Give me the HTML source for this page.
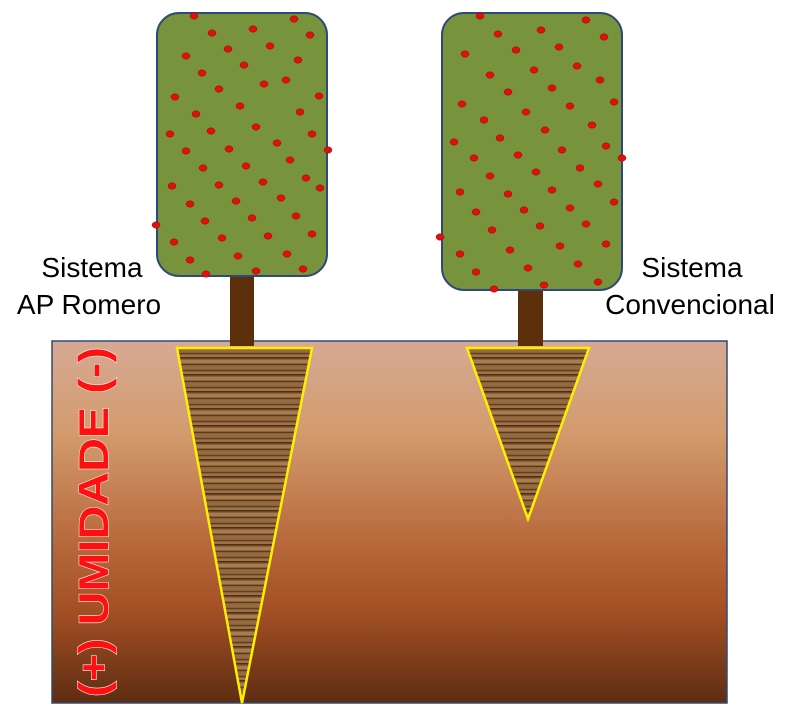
<!DOCTYPE html>
<html><head><meta charset="utf-8"><style>
html,body{margin:0;padding:0;background:#fff;width:800px;height:712px;overflow:hidden}
</style></head><body>
<svg width="800" height="712" viewBox="0 0 800 712" xmlns="http://www.w3.org/2000/svg">
<defs>
<linearGradient id="soil" x1="0" y1="0" x2="0" y2="1">
<stop offset="0" stop-color="#d6a994"/>
<stop offset="0.25" stop-color="#d39c6e"/>
<stop offset="0.55" stop-color="#b86a3c"/>
<stop offset="0.75" stop-color="#a24f24"/>
<stop offset="1" stop-color="#5e2d12"/>
</linearGradient>
<pattern id="wood" width="40" height="17" patternUnits="userSpaceOnUse">
<rect width="40" height="17" fill="#8a6038"/>
<rect y="0" width="40" height="1.5" fill="#4a2e16"/>
<rect y="3" width="40" height="3" fill="#a87c4e"/>
<rect y="7" width="40" height="1" fill="#5a3a1e"/>
<rect y="9" width="40" height="3" fill="#946a3e"/>
<rect y="13" width="40" height="1" fill="#603e20"/>
<rect y="15" width="40" height="2" fill="#9c7246"/>
</pattern>
</defs>
<rect x="52" y="341" width="675" height="362" fill="url(#soil)" stroke="#2f4a78" stroke-width="1.5"/>
<rect x="230" y="274" width="24" height="72" fill="#5c2e0a"/>
<rect x="518" y="288" width="25" height="58" fill="#5c2e0a"/>
<polygon points="177,348 312,348 242,703" fill="url(#wood)" stroke="#ffee00" stroke-width="2.5"/>
<polygon points="467,348 589,348 528,519" fill="url(#wood)" stroke="#ffee00" stroke-width="2.5"/>
<rect x="157" y="13" width="170" height="263" rx="22" fill="#77933c" stroke="#2f4a78" stroke-width="2"/>
<rect x="442" y="13" width="180" height="277" rx="22" fill="#77933c" stroke="#2f4a78" stroke-width="2"/>
<g fill="#e01010" stroke="#a00000" stroke-width="0.5">
<ellipse cx="194" cy="16" rx="4" ry="3.2"/><ellipse cx="294" cy="19" rx="4" ry="3.2"/><ellipse cx="212" cy="33" rx="4" ry="3.2"/><ellipse cx="253" cy="29" rx="4" ry="3.2"/><ellipse cx="310" cy="35" rx="4" ry="3.2"/>
<ellipse cx="186" cy="56" rx="4" ry="3.2"/><ellipse cx="228" cy="49" rx="4" ry="3.2"/><ellipse cx="270" cy="46" rx="4" ry="3.2"/><ellipse cx="244" cy="65" rx="4" ry="3.2"/><ellipse cx="298" cy="60" rx="4" ry="3.2"/>
<ellipse cx="202" cy="73" rx="4" ry="3.2"/><ellipse cx="175" cy="97" rx="4" ry="3.2"/><ellipse cx="219" cy="89" rx="4" ry="3.2"/><ellipse cx="264" cy="84" rx="4" ry="3.2"/><ellipse cx="319" cy="96" rx="4" ry="3.2"/>
<ellipse cx="286" cy="80" rx="4" ry="3.2"/><ellipse cx="196" cy="114" rx="4" ry="3.2"/><ellipse cx="240" cy="106" rx="4" ry="3.2"/><ellipse cx="300" cy="112" rx="4" ry="3.2"/><ellipse cx="170" cy="134" rx="4" ry="3.2"/>
<ellipse cx="211" cy="131" rx="4" ry="3.2"/><ellipse cx="256" cy="127" rx="4" ry="3.2"/><ellipse cx="312" cy="134" rx="4" ry="3.2"/><ellipse cx="186" cy="151" rx="4" ry="3.2"/><ellipse cx="229" cy="149" rx="4" ry="3.2"/>
<ellipse cx="277" cy="143" rx="4" ry="3.2"/><ellipse cx="328" cy="150" rx="4" ry="3.2"/><ellipse cx="203" cy="168" rx="4" ry="3.2"/><ellipse cx="246" cy="166" rx="4" ry="3.2"/><ellipse cx="290" cy="160" rx="4" ry="3.2"/>
<ellipse cx="172" cy="186" rx="4" ry="3.2"/><ellipse cx="219" cy="185" rx="4" ry="3.2"/><ellipse cx="263" cy="182" rx="4" ry="3.2"/><ellipse cx="306" cy="178" rx="4" ry="3.2"/><ellipse cx="190" cy="204" rx="4" ry="3.2"/>
<ellipse cx="236" cy="201" rx="4" ry="3.2"/><ellipse cx="281" cy="198" rx="4" ry="3.2"/><ellipse cx="320" cy="188" rx="4" ry="3.2"/><ellipse cx="156" cy="225" rx="4" ry="3.2"/><ellipse cx="205" cy="221" rx="4" ry="3.2"/>
<ellipse cx="252" cy="218" rx="4" ry="3.2"/><ellipse cx="296" cy="216" rx="4" ry="3.2"/><ellipse cx="174" cy="242" rx="4" ry="3.2"/><ellipse cx="222" cy="238" rx="4" ry="3.2"/><ellipse cx="268" cy="236" rx="4" ry="3.2"/>
<ellipse cx="312" cy="234" rx="4" ry="3.2"/><ellipse cx="190" cy="260" rx="4" ry="3.2"/><ellipse cx="238" cy="256" rx="4" ry="3.2"/><ellipse cx="287" cy="254" rx="4" ry="3.2"/><ellipse cx="206" cy="274" rx="4" ry="3.2"/>
<ellipse cx="256" cy="271" rx="4" ry="3.2"/><ellipse cx="303" cy="269" rx="4" ry="3.2"/>
<ellipse cx="480" cy="16" rx="4" ry="3.2"/><ellipse cx="586" cy="20" rx="4" ry="3.2"/><ellipse cx="498" cy="34" rx="4" ry="3.2"/><ellipse cx="541" cy="30" rx="4" ry="3.2"/><ellipse cx="604" cy="37" rx="4" ry="3.2"/>
<ellipse cx="465" cy="54" rx="4" ry="3.2"/><ellipse cx="516" cy="50" rx="4" ry="3.2"/><ellipse cx="559" cy="47" rx="4" ry="3.2"/><ellipse cx="577" cy="66" rx="4" ry="3.2"/><ellipse cx="534" cy="70" rx="4" ry="3.2"/>
<ellipse cx="490" cy="75" rx="4" ry="3.2"/><ellipse cx="600" cy="80" rx="4" ry="3.2"/><ellipse cx="462" cy="104" rx="4" ry="3.2"/><ellipse cx="508" cy="92" rx="4" ry="3.2"/><ellipse cx="552" cy="88" rx="4" ry="3.2"/>
<ellipse cx="614" cy="102" rx="4" ry="3.2"/><ellipse cx="484" cy="120" rx="4" ry="3.2"/><ellipse cx="526" cy="112" rx="4" ry="3.2"/><ellipse cx="570" cy="106" rx="4" ry="3.2"/><ellipse cx="454" cy="142" rx="4" ry="3.2"/>
<ellipse cx="500" cy="138" rx="4" ry="3.2"/><ellipse cx="545" cy="130" rx="4" ry="3.2"/><ellipse cx="592" cy="125" rx="4" ry="3.2"/><ellipse cx="474" cy="158" rx="4" ry="3.2"/><ellipse cx="518" cy="155" rx="4" ry="3.2"/>
<ellipse cx="562" cy="150" rx="4" ry="3.2"/><ellipse cx="606" cy="146" rx="4" ry="3.2"/><ellipse cx="622" cy="158" rx="4" ry="3.2"/><ellipse cx="490" cy="176" rx="4" ry="3.2"/><ellipse cx="536" cy="172" rx="4" ry="3.2"/>
<ellipse cx="580" cy="168" rx="4" ry="3.2"/><ellipse cx="460" cy="192" rx="4" ry="3.2"/><ellipse cx="508" cy="194" rx="4" ry="3.2"/><ellipse cx="552" cy="190" rx="4" ry="3.2"/><ellipse cx="598" cy="184" rx="4" ry="3.2"/>
<ellipse cx="476" cy="212" rx="4" ry="3.2"/><ellipse cx="524" cy="210" rx="4" ry="3.2"/><ellipse cx="570" cy="208" rx="4" ry="3.2"/><ellipse cx="614" cy="202" rx="4" ry="3.2"/><ellipse cx="440" cy="237" rx="4" ry="3.2"/>
<ellipse cx="492" cy="230" rx="4" ry="3.2"/><ellipse cx="540" cy="226" rx="4" ry="3.2"/><ellipse cx="586" cy="224" rx="4" ry="3.2"/><ellipse cx="460" cy="254" rx="4" ry="3.2"/><ellipse cx="510" cy="250" rx="4" ry="3.2"/>
<ellipse cx="560" cy="246" rx="4" ry="3.2"/><ellipse cx="606" cy="244" rx="4" ry="3.2"/><ellipse cx="476" cy="272" rx="4" ry="3.2"/><ellipse cx="528" cy="268" rx="4" ry="3.2"/><ellipse cx="578" cy="264" rx="4" ry="3.2"/>
<ellipse cx="494" cy="289" rx="4" ry="3.2"/><ellipse cx="544" cy="285" rx="4" ry="3.2"/><ellipse cx="598" cy="282" rx="4" ry="3.2"/>
</g>
<g font-family="Liberation Sans, sans-serif" font-size="28" fill="#000" text-anchor="middle">
<text x="92" y="277">Sistema</text>
<text x="89" y="314">AP Romero</text>
<text x="692" y="277">Sistema</text>
<text x="690" y="314">Convencional</text>
</g>
<text transform="translate(108,522) rotate(-90)" text-anchor="middle" textLength="350" lengthAdjust="spacingAndGlyphs" font-family="Liberation Sans, sans-serif" font-weight="bold" font-size="42" fill="#ff1010" stroke="#fff" stroke-width="1" paint-order="stroke">(+) UMIDADE (-)</text>
</svg>
</body></html>
